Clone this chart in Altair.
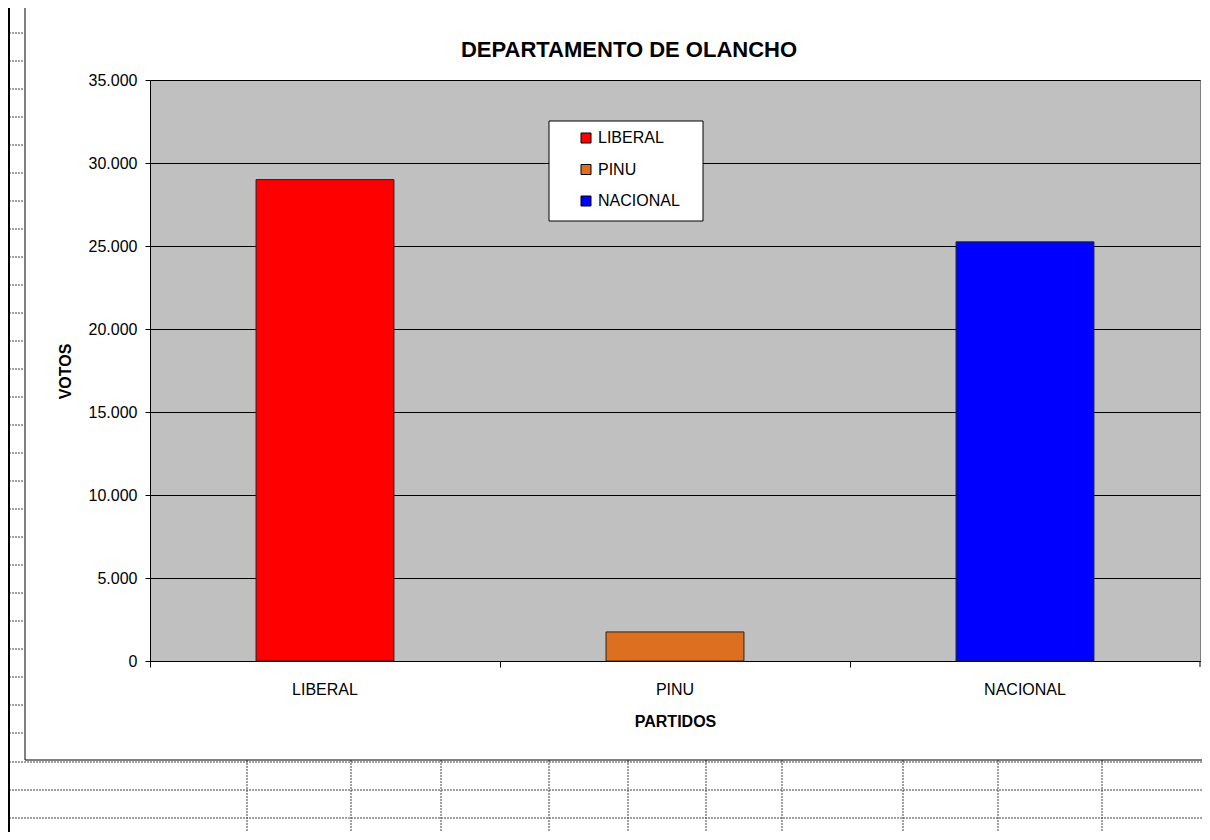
import altair as alt
import pandas as pd

# ---- chart data ----
partidos = ["LIBERAL", "PINU", "NACIONAL"]
votos = [29000, 1750, 25250]
colores = ["#FF0000", "#DD7020", "#0000FF"]
y_ticks = [0, 5000, 10000, 15000, 20000, 25000, 30000, 35000]

# ---- decoration (spreadsheet chrome), pixels relative to the plot-area origin ----
W, H = 1050, 581
sheet_cols_x = [97, 201, 291, 399, 478, 556, 632, 753, 848, 952]
sheet_rows_y = [682, 710, 738]
left_rows_y = [-47, -19, 9, 37, 65, 93, 121, 149, 177, 205, 233, 261, 289, 317,
               345, 373, 401, 429, 457, 485, 513, 541, 569, 597, 625, 653]
legend_box = dict(x=399, x2=553, y=41, y2=141)

df = pd.DataFrame({"PARTIDOS": partidos, "VOTOS": votos})

bars = alt.Chart(df).mark_bar(
    width=alt.RelativeBandSize(0.394), stroke="#222222", strokeWidth=1
).encode(
    x=alt.X(
        "PARTIDOS:N", sort=partidos,
        scale=alt.Scale(paddingInner=0, paddingOuter=0),
        axis=alt.Axis(
            title="PARTIDOS", bandPosition=0, labelAngle=0, grid=False,
            domainColor="black", tickColor="black", tickSize=6,
            labelPadding=27, labelBaseline="alphabetic", labelFontSize=16,
            labelColor="black", titleFontSize=16, titleFontWeight="bold",
            titleColor="black", titleY=65, titleBaseline="alphabetic",
        ),
    ),
    y=alt.Y(
        "VOTOS:Q",
        scale=alt.Scale(domain=[0, 35000], nice=False),
        axis=alt.Axis(
            title="VOTOS", values=y_ticks,
            labelExpr="replace(format(datum.value, ','), ',', '.')",
            grid=True, gridColor="black", gridWidth=1, domainColor="black",
            tickColor="black", tickSize=5, labelPadding=8, labelFontSize=16,
            labelColor="black", titleFontSize=16, titleFontWeight="bold",
            titleColor="black", titleAngle=270, titleX=-85, titleY=291,
            titleAlign="center", titleBaseline="middle",
        ),
    ),
    color=alt.Color(
        "PARTIDOS:N",
        scale=alt.Scale(domain=partidos, range=colores),
        legend=alt.Legend(
            title=None, orient="none", legendX=428, legendY=50, padding=0,
            symbolType="square", symbolSize=100, symbolStrokeColor="black",
            symbolStrokeWidth=1, labelFontSize=16, labelOffset=4,
            rowPadding=15.5, labelColor="black",
        ),
    ),
)

def rules(rows, color, width, dash=None):
    d = pd.DataFrame(rows)
    kw = dict(color=color, strokeWidth=width)
    if dash:
        kw["strokeDash"] = dash
    return alt.Chart(d).mark_rule(**kw).encode(
        x=alt.X("x:Q", scale=None, axis=None),
        x2="x2:Q",
        y=alt.Y("y:Q", scale=None, axis=None),
        y2="y2:Q",
    )

dotted = (
    [dict(x=c, x2=c, y=680, y2=752) for c in sheet_cols_x]
    + [dict(x=-141, x2=W + 2, y=r, y2=r) for r in sheet_rows_y]
    + [dict(x=-141, x2=-126, y=r, y2=r) for r in left_rows_y]
)
solid = [
    dict(x=-125, x2=-125, y=-72, y2=680),
    dict(x=-125, x2=W + 2, y=680, y2=680),
    dict(x=W, x2=W, y=H, y2=H + 6),
]
thick = [dict(x=-141, x2=-141, y=-72, y2=752)]

box = alt.Chart(pd.DataFrame([legend_box])).mark_rect(
    fill="white", stroke="black", strokeWidth=1
).encode(
    x=alt.X("x:Q", scale=None, axis=None), x2="x2:Q",
    y=alt.Y("y:Q", scale=None, axis=None), y2="y2:Q",
)

chart = alt.layer(
    bars,
    rules(dotted, "#444444", 1, [2, 1]),
    rules(solid, "black", 1),
    rules(thick, "black", 2),
    box,
).resolve_scale(x="independent", y="independent").properties(
    width=W, height=H,
    title=alt.TitleParams(
        "DEPARTAMENTO DE OLANCHO", fontSize=22, fontWeight="bold",
        dx=-46, dy=72, offset=0, baseline="alphabetic", color="black",
    ),
    autosize=alt.AutoSizeParams(type="none"),
    padding={"left": 142, "top": 72, "right": 2, "bottom": 171},
    background="white",
).configure(font="Liberation Sans").configure_view(
    fill="#C0C0C0", stroke="#808080", strokeWidth=1
)

chart.save("out.html", embed_options={"renderer": "svg", "actions": False})
